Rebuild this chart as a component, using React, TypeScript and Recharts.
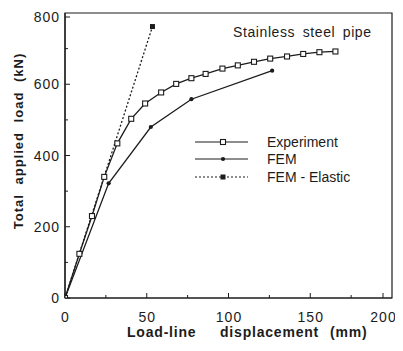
import React from "react";
import { LineChart, Line, XAxis, YAxis, ReferenceArea } from "recharts";

const expX = [0, 8.8, 16.5, 24, 32, 40.5, 49, 58.8, 68, 77.3, 86, 96.3, 105.7, 115.6, 125.5, 135.8, 145.7, 155.6, 165.4];
const expY = [0, 124, 230, 340, 434, 503, 546, 577, 601, 617, 629, 644, 653, 663, 672, 678, 685, 690, 692];
const femX = [0, 26.7, 52.5, 77.3, 126.7];
const femY = [0, 322, 480, 558, 638];
const elaX = [0, 53.5];
const elaY = [0, 762];
const xTicks = [0, 25, 50, 75, 100, 125, 150, 175, 200];
const yTicks = [0, 100, 200, 300, 400, 500, 600, 700, 800];

const expData = expX.map((x, i) => ({ x, y: expY[i] }));
const femData = femX.map((x, i) => ({ x, y: femY[i] }));
const elaData = elaX.map((x, i) => ({ x, y: elaY[i] }));

const INK = "#1c1c1c";
const FONT = "'Liberation Sans', Arial, sans-serif";

const XTick = (props: any) => {
  const { x, y, payload } = props;
  const v = payload.value;
  const major = v % 50 === 0;
  return (
    <g>
      <line x1={x} x2={x} y1={y} y2={y - (major ? 5 : 3)} stroke={INK} strokeWidth={1} />
      {major && (
        <text x={x + 0.5} y={y + 24} textAnchor="middle" fontFamily={FONT} fontSize={14} letterSpacing={1} fill={INK}>
          {v}
        </text>
      )}
    </g>
  );
};

const YTick = (props: any) => {
  const { x, y, payload } = props;
  const v = payload.value;
  const major = v % 200 === 0;
  return (
    <g>
      <line x1={x} x2={x + (major ? 5 : 3)} y1={y} y2={y} stroke={INK} strokeWidth={1} />
      {major && (
        <text x={x - 5} y={y + 5} textAnchor="end" fontFamily={FONT} fontSize={14} letterSpacing={1} fill={INK}>
          {v}
        </text>
      )}
    </g>
  );
};

const ExpDot = (props: any) => {
  const { cx, cy } = props;
  if (cx == null || cy == null) return null;
  return <rect x={cx - 2.5} y={cy - 2.5} width={5} height={5} fill="#fff" stroke={INK} strokeWidth={1.1} />;
};
const FemDot = (props: any) => {
  const { cx, cy } = props;
  if (cx == null || cy == null) return null;
  return <circle cx={cx} cy={cy} r={2.1} fill={INK} />;
};
const ElaDot = (props: any) => {
  const { cx, cy } = props;
  if (cx == null || cy == null) return null;
  return <rect x={cx - 2.5} y={cy - 2.5} width={5} height={5} fill={INK} />;
};

export default function App() {
  const W = 387;
  const H = 335;
  return (
    <div style={{ position: "relative", width: W, height: H }}>
      <style>{".recharts-wrapper,.recharts-surface{overflow:visible !important}"}</style>
      <LineChart width={W} height={H} margin={{ top: 5, right: 3, bottom: 0, left: 0 }}>
        <XAxis
          type="number"
          dataKey="x"
          domain={[0, 200]}
          ticks={xTicks}
          tickSize={0}
          tickMargin={0}
          height={45}
          tick={<XTick />}
          axisLine={{ stroke: INK, strokeWidth: 1.2 }}
          allowDataOverflow
        />
        <YAxis
          type="number"
          dataKey="y"
          domain={[0, 800]}
          ticks={yTicks}
          tickSize={0}
          tickMargin={0}
          width={57}
          tick={<YTick />}
          axisLine={{ stroke: INK, strokeWidth: 1.2 }}
          allowDataOverflow
        />
        <ReferenceArea x1={0} x2={200} y1={0} y2={800} fill="none" stroke={INK} strokeWidth={1.2} />
        <Line
          data={elaData}
          dataKey="y"
          stroke={INK}
          strokeWidth={1.3}
          strokeDasharray="2 2"
          dot={<ElaDot />}
          isAnimationActive={false}
        />
        <Line
          data={femData}
          dataKey="y"
          stroke={INK}
          strokeWidth={1.3}
          dot={<FemDot />}
          isAnimationActive={false}
        />
        <Line
          data={expData}
          dataKey="y"
          stroke={INK}
          strokeWidth={1.3}
          dot={<ExpDot />}
          isAnimationActive={false}
        />
      </LineChart>
      <svg
        width={W}
        height={H}
        style={{ position: "absolute", left: 0, top: 0, pointerEvents: "none", overflow: "visible" }}
        fontFamily={FONT}
        fill={INK}
      >
        <text x={225} y={29} fontSize={14} letterSpacing={0.6} wordSpacing={3}>
          Stainless steel pipe
        </text>
        <g stroke={INK} strokeWidth={1.2}>
          <line x1={187} x2={240} y1={134} y2={134} />
          <line x1={187} x2={240} y1={151} y2={151} />
          <line x1={187} x2={240} y1={169} y2={169} strokeDasharray="2 2" />
        </g>
        <rect x={212.5} y={131.5} width={5} height={5} fill="#fff" stroke={INK} strokeWidth={1.1} />
        <circle cx={215} cy={151} r={2.1} fill={INK} />
        <rect x={212.5} y={166.5} width={5} height={5} fill={INK} />
        <text x={259} y={139} fontSize={14}>Experiment</text>
        <text x={259} y={156} fontSize={14}>FEM</text>
        <text x={259} y={174} fontSize={14}>FEM - Elastic</text>
        <g fontSize={14} fontWeight="bold" letterSpacing={0.8}>
          <text x={119} y={329}>Load-line</text>
          <text x={212} y={329}>displacement</text>
          <text x={322} y={329}>(mm)</text>
        </g>
        <text
          transform="translate(15,133) rotate(-90)"
          textAnchor="middle"
          fontSize={13}
          fontWeight="bold"
          letterSpacing={1}
          wordSpacing={5}
        >
          Total applied load (kN)
        </text>
      </svg>
    </div>
  );
}
